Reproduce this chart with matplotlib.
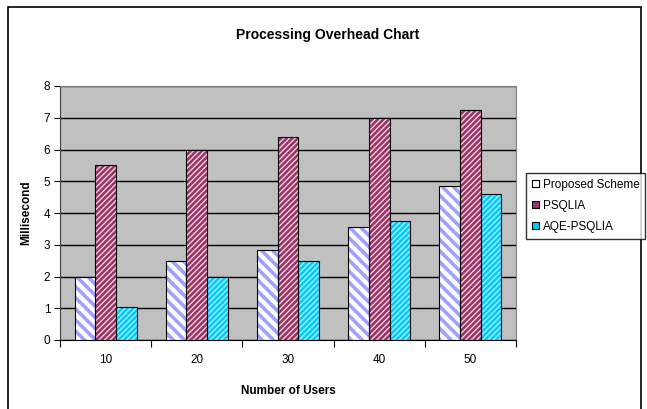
import numpy as np
import matplotlib
matplotlib.use("Agg")
import matplotlib.pyplot as plt
from matplotlib.patches import Rectangle, Patch

plt.rcParams['font.family'] = ['Liberation Sans', 'DejaVu Sans']

# data
users = ["10", "20", "30", "40", "50"]
proposed = [2.0, 2.5, 2.85, 3.55, 4.85]
psqlia = [5.5, 6.0, 6.38, 6.98, 7.25]
aqe_psqlia = [1.05, 2.0, 2.5, 3.75, 4.6]
series_names = ["Proposed Scheme", "PSQLIA", "AQE-PSQLIA"]

# (face, hatch colour, hatch, hatch linewidth)
styles = [
    ("white", "#a0a0ff", "\\\\\\", 2.6),
    ("#993366", "#ecd0dc", "//////", 1.0),
    ("#00ccff", "#a8ecff", "//////", 1.0),
]

fig = plt.figure(figsize=(6.47, 4.09), dpi=100)
ax = fig.add_axes([60/647, 69/409, 456/647, 254/409])
ax.set_facecolor("#c0c0c0")

x = np.arange(len(users))
w = 0.227
for i, (vals, (fc, hc, hatch, hlw)) in enumerate(zip([proposed, psqlia, aqe_psqlia], styles)):
    pos = x + (i - 1) * w
    with plt.rc_context({'hatch.linewidth': hlw}):
        ax.bar(pos, vals, w, color=fc, edgecolor=hc, hatch=hatch, linewidth=0, zorder=3)
    ax.bar(pos, vals, w, fill=False, edgecolor="black", linewidth=0.8, zorder=4)

ax.set_xlim(-0.5, len(users) - 0.5)
ax.set_ylim(0, 8)
ax.set_yticks(range(0, 9))
ax.yaxis.grid(True, color="black", linewidth=1.0, zorder=1)
ax.set_axisbelow(True)

# category labels centred, ticks between categories
ax.set_xticks(x)
ax.set_xticklabels(users, fontsize=8.5)
ax.set_xticks(np.arange(-0.5, len(users)), minor=True)
ax.tick_params(axis="x", which="major", length=0, pad=10)
ax.tick_params(axis="x", which="minor", length=5, color="black", width=0.8, direction="out")
ax.tick_params(axis="y", length=4, width=0.8, labelsize=8.5, pad=3)

for side in ["top", "right"]:
    ax.spines[side].set_color("#808080")
ax.spines["left"].set_color("#404040")
ax.spines["bottom"].set_color("black")

ax.set_ylabel("Millisecond", fontsize=8.5, fontweight="bold", labelpad=8)
ax.set_xlabel("Number of Users", fontsize=8.5, fontweight="bold", labelpad=14)
fig.text(328/647, 1 - 35/409, "Processing Overhead Chart", ha="center", va="center",
         fontsize=10, fontweight="bold")

handles = []
for name, (fc, hc, hatch, hlw) in zip(series_names, styles):
    handles.append(Patch(facecolor=fc, edgecolor="black", hatch=None, linewidth=0.8, label=name))
leg = fig.legend(handles=handles, loc="upper left", bbox_to_anchor=(526/647, 1 - 173/409),
                 frameon=True, fancybox=False, fontsize=8.5, handlelength=0.6, handleheight=0.6,
                 handletextpad=0.3, labelspacing=0.75, borderpad=0.5, borderaxespad=0)
leg.get_frame().set_edgecolor("black")
leg.get_frame().set_linewidth(1.0)

# outer chart frame
fig.patches.append(Rectangle((8/647, -0.05), 633/647, 1.05 - 7/409, transform=fig.transFigure,
                             fill=False, edgecolor="black", linewidth=1.2))

fig.savefig("out.png", dpi=100)
